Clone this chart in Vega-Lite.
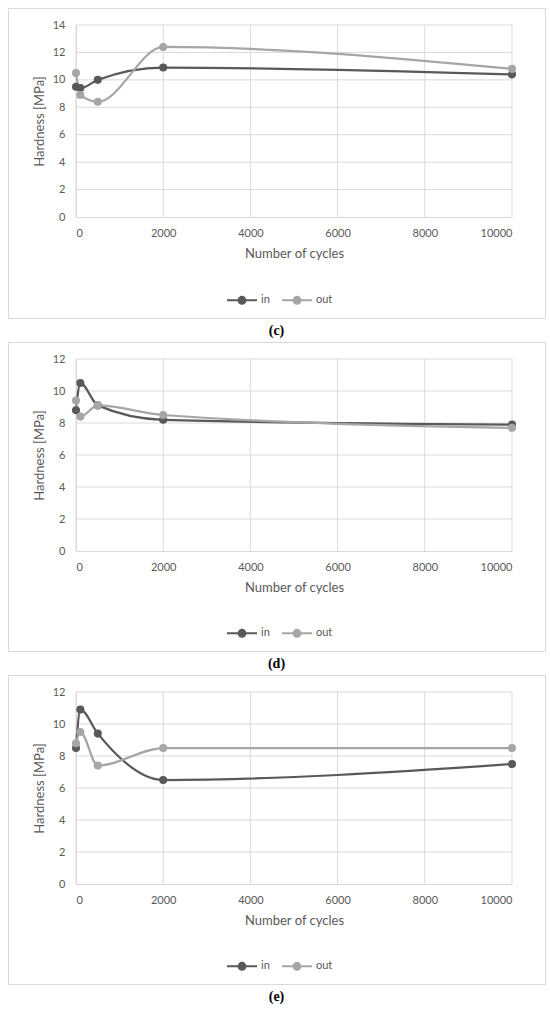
{
  "$schema": "https://vega.github.io/schema/vega-lite/v6.json",
  "description": "Hardness vs number of cycles, three panels (c), (d), (e).",
  "padding": {"left": 7, "top": 7, "right": 0, "bottom": 0},
  "spacing": 2,
  "resolve": {"legend": {"color": "independent"}, "scale": {"color": "independent"}},
  "config": {
    "view": {"stroke": "#d9d9d9", "strokeWidth": 1},
    "font": "Lato",
    "axis": {
      "grid": false,
      "domainColor": "#d9d9d9",
      "ticks": false,
      "labelColor": "#595959",
      "labelFontSize": 11,
      "titleColor": "#595959",
      "titleFontSize": 13,
      "titleFontWeight": "normal"
    },
    "rule": {"color": "#d9d9d9", "strokeWidth": 1},
    "legend": {"labelColor": "#595959", "labelFontSize": 11},
    "title": {"font": "Liberation Serif", "fontSize": 14, "fontWeight": "bold", "color": "#000000", "orient": "bottom", "offset": 6}
  },
  "datasets": {
    "xgrid": [{"t": 0}, {"t": 2000}, {"t": 4000}, {"t": 6000}, {"t": 8000}, {"t": 10000}],
    "ygrid14": [{"t": 2}, {"t": 4}, {"t": 6}, {"t": 8}, {"t": 10}, {"t": 12}, {"t": 14}],
    "ygrid12": [{"t": 2}, {"t": 4}, {"t": 6}, {"t": 8}, {"t": 10}, {"t": 12}],
    "hardness": [
      {"panel": "c", "location": "in", "cycles": 0, "hardness": 9.5},
      {"panel": "c", "location": "in", "cycles": 100, "hardness": 9.4},
      {"panel": "c", "location": "in", "cycles": 500, "hardness": 10.0},
      {"panel": "c", "location": "in", "cycles": 2000, "hardness": 10.9},
      {"panel": "c", "location": "in", "cycles": 10000, "hardness": 10.4},
      {"panel": "c", "location": "out", "cycles": 0, "hardness": 10.5},
      {"panel": "c", "location": "out", "cycles": 100, "hardness": 8.9},
      {"panel": "c", "location": "out", "cycles": 500, "hardness": 8.4},
      {"panel": "c", "location": "out", "cycles": 2000, "hardness": 12.4},
      {"panel": "c", "location": "out", "cycles": 10000, "hardness": 10.8},
      {"panel": "d", "location": "in", "cycles": 0, "hardness": 8.8},
      {"panel": "d", "location": "in", "cycles": 100, "hardness": 10.5},
      {"panel": "d", "location": "in", "cycles": 500, "hardness": 9.1},
      {"panel": "d", "location": "in", "cycles": 2000, "hardness": 8.2},
      {"panel": "d", "location": "in", "cycles": 10000, "hardness": 7.9},
      {"panel": "d", "location": "out", "cycles": 0, "hardness": 9.4},
      {"panel": "d", "location": "out", "cycles": 100, "hardness": 8.4},
      {"panel": "d", "location": "out", "cycles": 500, "hardness": 9.1},
      {"panel": "d", "location": "out", "cycles": 2000, "hardness": 8.5},
      {"panel": "d", "location": "out", "cycles": 10000, "hardness": 7.7},
      {"panel": "e", "location": "in", "cycles": 0, "hardness": 8.5},
      {"panel": "e", "location": "in", "cycles": 100, "hardness": 10.9},
      {"panel": "e", "location": "in", "cycles": 500, "hardness": 9.4},
      {"panel": "e", "location": "in", "cycles": 2000, "hardness": 6.5},
      {"panel": "e", "location": "in", "cycles": 10000, "hardness": 7.5},
      {"panel": "e", "location": "out", "cycles": 0, "hardness": 8.8},
      {"panel": "e", "location": "out", "cycles": 100, "hardness": 9.5},
      {"panel": "e", "location": "out", "cycles": 500, "hardness": 7.4},
      {"panel": "e", "location": "out", "cycles": 2000, "hardness": 8.5},
      {"panel": "e", "location": "out", "cycles": 10000, "hardness": 8.5}
    ]
  },
  "vconcat": [
    {
      "width": 537, "height": 310,
      "title": {"text": "(c)"},
      "layer": [
        {
          "data": {"name": "xgrid"},
          "mark": {"type": "rule"},
          "encoding": {
            "x": {"field": "t", "type": "quantitative"},
            "y": {"datum": 0, "type": "quantitative"},
            "y2": {"datum": 14}
          }
        },
        {
          "data": {"name": "ygrid14"},
          "mark": {"type": "rule"},
          "encoding": {
            "y": {"field": "t", "type": "quantitative"},
            "x": {"datum": 0, "type": "quantitative"},
            "x2": {"datum": 10000}
          }
        },
        {
          "data": {"name": "hardness"},
          "transform": [{"filter": "datum.panel == 'c'"}],
          "encoding": {
            "x": {"field": "cycles", "type": "quantitative",
              "scale": {"domain": [0, 10000], "range": [68, 504], "nice": false},
              "axis": {"title": "Number of cycles", "values": [0, 2000, 4000, 6000, 8000, 10000], "format": "d", "offset": -101, "labelPadding": 10, "titlePadding": 9}},
            "y": {"field": "hardness", "type": "quantitative",
              "scale": {"domain": [0, 14], "range": [209, 17], "nice": false},
              "axis": {"title": "Hardness [MPa]", "values": [0, 2, 4, 6, 8, 10, 12, 14], "offset": -68, "labelPadding": 11, "titlePadding": 6}},
            "color": {"field": "location", "type": "nominal",
              "scale": {"domain": ["in", "out"], "range": ["#595959", "#a6a6a6"]},
              "legend": {"title": null, "orient": "none", "direction": "horizontal", "legendX": 218, "legendY": 276,
                "symbolType": "M-1,0H-0.23M0.23,0H1M-0.23,0A0.23,0.23,0,1,1,0.23,0A0.23,0.23,0,1,1,-0.23,0Z",
                "symbolSize": 900, "symbolStrokeWidth": 2, "columnPadding": 8, "labelOffset": 3,
                "encode": {"symbols": {"update": {"fill": {"scale": "color", "field": "value"}, "stroke": {"scale": "color", "field": "value"}}}}}}
          },
          "layer": [
            {"mark": {"type": "line", "interpolate": "monotone", "strokeWidth": 2.25}},
            {"mark": {"type": "point", "filled": true, "size": 65, "opacity": 1}}
          ]
        }
      ]
    },
    {
      "width": 537, "height": 309,
      "title": {"text": "(d)"},
      "layer": [
        {
          "data": {"name": "xgrid"},
          "mark": {"type": "rule"},
          "encoding": {
            "x": {"field": "t", "type": "quantitative"},
            "y": {"datum": 0, "type": "quantitative"},
            "y2": {"datum": 12}
          }
        },
        {
          "data": {"name": "ygrid12"},
          "mark": {"type": "rule"},
          "encoding": {
            "y": {"field": "t", "type": "quantitative"},
            "x": {"datum": 0, "type": "quantitative"},
            "x2": {"datum": 10000}
          }
        },
        {
          "data": {"name": "hardness"},
          "transform": [{"filter": "datum.panel == 'd'"}],
          "encoding": {
            "x": {"field": "cycles", "type": "quantitative",
              "scale": {"domain": [0, 10000], "range": [68, 504], "nice": false},
              "axis": {"title": "Number of cycles", "values": [0, 2000, 4000, 6000, 8000, 10000], "format": "d", "offset": -100, "labelPadding": 10, "titlePadding": 9}},
            "y": {"field": "hardness", "type": "quantitative",
              "scale": {"domain": [0, 12], "range": [209, 17], "nice": false},
              "axis": {"title": "Hardness [MPa]", "values": [0, 2, 4, 6, 8, 10, 12], "offset": -68, "labelPadding": 11, "titlePadding": 6}},
            "color": {"field": "location", "type": "nominal",
              "scale": {"domain": ["in", "out"], "range": ["#595959", "#a6a6a6"]},
              "legend": {"title": null, "orient": "none", "direction": "horizontal", "legendX": 218, "legendY": 275,
                "symbolType": "M-1,0H-0.23M0.23,0H1M-0.23,0A0.23,0.23,0,1,1,0.23,0A0.23,0.23,0,1,1,-0.23,0Z",
                "symbolSize": 900, "symbolStrokeWidth": 2, "columnPadding": 8, "labelOffset": 3,
                "encode": {"symbols": {"update": {"fill": {"scale": "color", "field": "value"}, "stroke": {"scale": "color", "field": "value"}}}}}}
          },
          "layer": [
            {"mark": {"type": "line", "interpolate": "monotone", "strokeWidth": 2.25}},
            {"mark": {"type": "point", "filled": true, "size": 65, "opacity": 1}}
          ]
        }
      ]
    },
    {
      "width": 537, "height": 309,
      "title": {"text": "(e)"},
      "layer": [
        {
          "data": {"name": "xgrid"},
          "mark": {"type": "rule"},
          "encoding": {
            "x": {"field": "t", "type": "quantitative"},
            "y": {"datum": 0, "type": "quantitative"},
            "y2": {"datum": 12}
          }
        },
        {
          "data": {"name": "ygrid12"},
          "mark": {"type": "rule"},
          "encoding": {
            "y": {"field": "t", "type": "quantitative"},
            "x": {"datum": 0, "type": "quantitative"},
            "x2": {"datum": 10000}
          }
        },
        {
          "data": {"name": "hardness"},
          "transform": [{"filter": "datum.panel == 'e'"}],
          "encoding": {
            "x": {"field": "cycles", "type": "quantitative",
              "scale": {"domain": [0, 10000], "range": [68, 504], "nice": false},
              "axis": {"title": "Number of cycles", "values": [0, 2000, 4000, 6000, 8000, 10000], "format": "d", "offset": -100, "labelPadding": 10, "titlePadding": 9}},
            "y": {"field": "hardness", "type": "quantitative",
              "scale": {"domain": [0, 12], "range": [209, 17], "nice": false},
              "axis": {"title": "Hardness [MPa]", "values": [0, 2, 4, 6, 8, 10, 12], "offset": -68, "labelPadding": 11, "titlePadding": 6}},
            "color": {"field": "location", "type": "nominal",
              "scale": {"domain": ["in", "out"], "range": ["#595959", "#a6a6a6"]},
              "legend": {"title": null, "orient": "none", "direction": "horizontal", "legendX": 218, "legendY": 275,
                "symbolType": "M-1,0H-0.23M0.23,0H1M-0.23,0A0.23,0.23,0,1,1,0.23,0A0.23,0.23,0,1,1,-0.23,0Z",
                "symbolSize": 900, "symbolStrokeWidth": 2, "columnPadding": 8, "labelOffset": 3,
                "encode": {"symbols": {"update": {"fill": {"scale": "color", "field": "value"}, "stroke": {"scale": "color", "field": "value"}}}}}}
          },
          "layer": [
            {"mark": {"type": "line", "interpolate": "monotone", "strokeWidth": 2.25}},
            {"mark": {"type": "point", "filled": true, "size": 65, "opacity": 1}}
          ]
        }
      ]
    }
  ]
}
